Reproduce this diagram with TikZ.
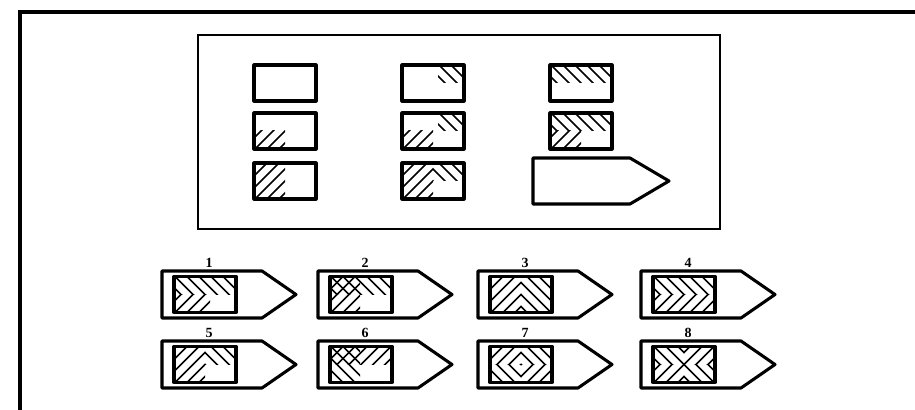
\documentclass[tikz,border=0pt]{standalone}
\usepackage{fontspec}
\setmainfont{Liberation Serif}
\newcommand\hatchP[1]{\begin{scope}\clip #1;\foreach \k in {0,...,9}{\draw[hl] (12*\k+1,0) -- ++(-40,40);}\end{scope}}
\newcommand\hatchN[1]{\begin{scope}\clip #1;\foreach \k in {-3,...,5}{\draw[hl] (12*\k+1,0) -- ++(40,40);}\end{scope}}
\newcommand\cell[3]{\begin{scope}[shift={(#1,#2)}]#3\draw[box] (0,0) rectangle (62,36);\end{scope}}
\newcommand\opt[4]{%
  \begin{scope}[shift={(#1,#2)}]
    \draw[box] (0,0) -- (100,0) -- (134,23.5) -- (100,47) -- (0,47) -- cycle;
    \node[num] (n#3) at (47,-8) {#3};
    \begin{scope}[shift={(12,5.5)}]#4\draw[box] (0,0) rectangle (62,36);\end{scope}
  \end{scope}}
\begin{document}
\begin{tikzpicture}[x=0.75pt,y=-0.75pt,
  box/.style={line width=2.3pt,line join=round},
  hl/.style={line width=1.3pt},
  num/.style={font=\bfseries\fontsize{10.5}{11}\selectfont,inner sep=0pt}]
\useasboundingbox (0,0) rectangle (915,410);
\fill[white] (0,0) rectangle (915,410);
\draw[line width=3pt] (20,410) -- (20,12) -- (915,12);
% main frame
\draw[line width=2.2pt] (198,35) rectangle (720,229);
% matrix
\cell{254}{65}{}
\cell{402}{65}{\hatchN{(36,0) rectangle (62,18)}}
\cell{550}{65}{\hatchN{(0,0) rectangle (62,18)}}
\cell{254}{113}{\hatchP{(0,18) rectangle (31,36)}}
\cell{402}{113}{\hatchN{(36,0) rectangle (62,18)}\hatchP{(0,18) rectangle (31,36)}}
\cell{550}{113}{\hatchN{(0,0) rectangle (62,18)}\hatchP{(0,18) rectangle (31,36)}}
\cell{254}{163}{\hatchP{(0,0) rectangle (31,36)}}
\cell{402}{163}{\hatchP{(0,0) rectangle (31,36)}\hatchN{(31,0) rectangle (62,18)}}
\draw[box] (533,158) -- (630,158) -- (669,181) -- (630,204) -- (533,204) -- cycle;
% options
\opt{162}{271}{1}{\hatchN{(0,0) rectangle (62,18)}\hatchP{(0,18) rectangle (36,36)}}
\opt{318}{271}{2}{\hatchN{(0,0) rectangle (62,18)}\hatchP{(0,0) rectangle (30,36)}}
\opt{478}{271}{3}{\hatchP{(0,0) rectangle (31,36)}\hatchN{(31,0) rectangle (62,36)}}
\opt{641}{271}{4}{\hatchN{(0,0) rectangle (62,18)}\hatchP{(0,18) rectangle (62,36)}}
\opt{162}{341}{5}{\hatchP{(0,0) rectangle (31,36)}\hatchN{(31,0) rectangle (62,18)}}
\opt{318}{341}{6}{\hatchN{(0,0) rectangle (30,36)}\hatchP{(0,0) rectangle (62,18)}}
\opt{478}{341}{7}{\hatchP{(0,0) rectangle (31,18)}\hatchN{(31,0) rectangle (62,18)}\hatchN{(0,18) rectangle (31,36)}\hatchP{(31,18) rectangle (62,36)}}
\opt{641}{341}{8}{\hatchN{(0,0) rectangle (31,18)}\hatchP{(31,0) rectangle (62,18)}\hatchP{(0,18) rectangle (31,36)}\hatchN{(31,18) rectangle (62,36)}}
\end{tikzpicture}
\end{document}
